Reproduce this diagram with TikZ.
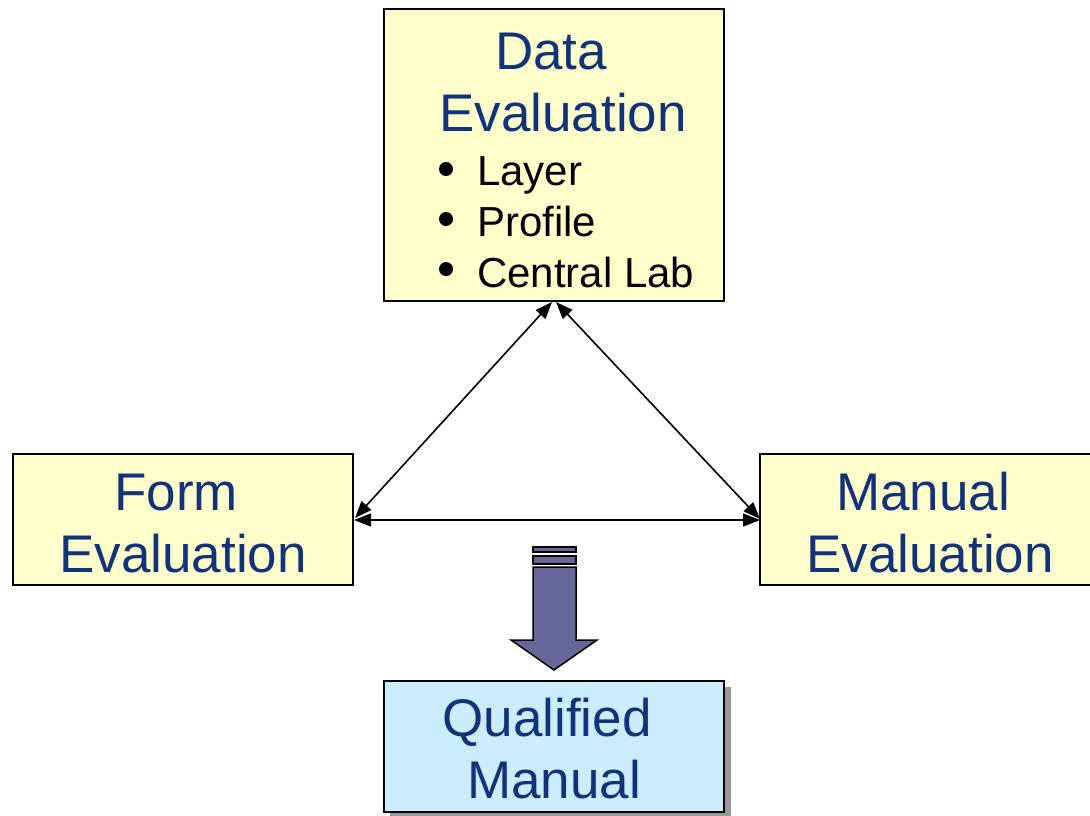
\documentclass[tikz,border=0pt]{standalone}
\usepackage{fontspec}
\setmainfont{Liberation Sans}
\usetikzlibrary{arrows.meta}
\definecolor{boxyellow}{HTML}{FFFFCC}
\definecolor{boxblue}{HTML}{CCECFF}
\definecolor{txtblue}{RGB}{19,51,120}
\definecolor{arrowfill}{HTML}{666699}
\definecolor{shadowgray}{HTML}{999999}
\tikzset{
  ybox/.style={draw=black, line width=1.3pt, fill=boxyellow},
  bbox/.style={draw=black, line width=1.3pt, fill=boxblue},
  bigtxt/.style={anchor=base, text=txtblue, font=\fontsize{53}{63}\selectfont, inner sep=0pt},
  smalltxt/.style={anchor=base west, text=black, font=\fontsize{42}{51}\selectfont, inner sep=0pt},
  conn/.style={line width=1.6pt, {Triangle[length=17pt,width=13pt]}-{Triangle[length=17pt,width=13pt]}},
  blockarrow/.style={draw=black, line width=1.5pt, fill=arrowfill, line join=miter},
}
\begin{document}
\begin{tikzpicture}[x=1pt,y=-1pt]
\useasboundingbox (0,0) rectangle (1090,815);
\clip (0,0) rectangle (1090,815);
% boxes
\node[ybox, minimum width=340pt, minimum height=292pt, inner sep=0pt] (data) at (554,155) {};
\node[ybox, minimum width=340pt, minimum height=131pt, inner sep=0pt] (form) at (183,519.5) {};
\node[ybox, minimum width=340pt, minimum height=131pt, inner sep=0pt] (manual) at (930,519.5) {};
\fill[shadowgray] (390,687) rectangle (731,818);
\node[bbox, minimum width=340pt, minimum height=131pt, inner sep=0pt] (qual) at (554,746.5) {};
% texts
\node[bigtxt] (t1) at (551,69) {Data};
\node[bigtxt] (t2) at (563,131) {Evaluation};
\node[smalltxt] (b1) at (477,185) {Layer};
\node[smalltxt] (b2) at (477,236) {Profile};
\node[smalltxt] (b3) at (477,287) {Central Lab};
\foreach \yy in {169,219,269}{
  \fill (446,\yy) circle (7pt);
}
\node[bigtxt] (f1) at (176,510) {Form};
\node[bigtxt] (f2) at (183,572) {Evaluation};
\node[bigtxt] (m1) at (923,510) {Manual};
\node[bigtxt] (m2) at (930,572) {Evaluation};
\node[bigtxt] (q1) at (547,736) {Qualified};
\node[bigtxt] (q2) at (554,798) {Manual};
% connectors
\coordinate (dl) at (552,302);
\coordinate (dr) at (556,302);
\coordinate (fl) at (355,518);
\coordinate (fh) at (354,520);
\coordinate (ml) at (760,519);
\coordinate (mh) at (760,520);
\draw[conn] (dl) -- (fl);
\draw[conn] (dr) -- (ml);
\draw[conn] (fh) -- (mh);
% block arrow
\path[blockarrow] (533,547) rectangle (576,552);
\path[blockarrow] (533,556) rectangle (576,564);
\path[blockarrow] (533,567) -- (576,567) -- (576,640) -- (597,640) -- (554,670) -- (511,640) -- (533,640) -- cycle;
\end{tikzpicture}
\end{document}
